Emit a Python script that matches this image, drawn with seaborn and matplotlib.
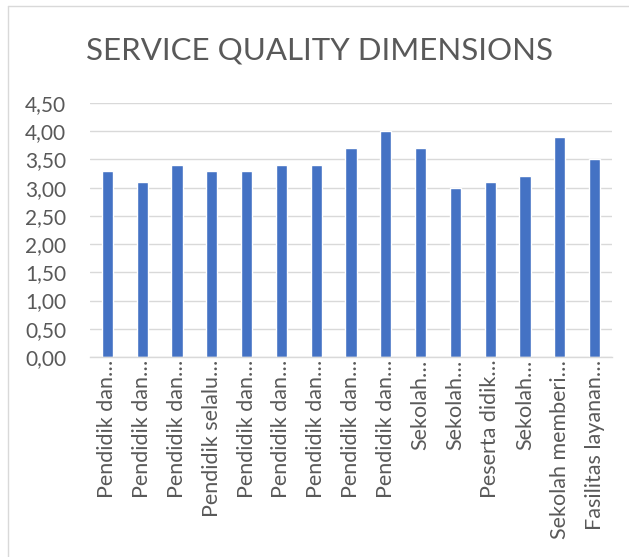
import matplotlib
matplotlib.use("Agg")
import matplotlib.pyplot as plt
from matplotlib.lines import Line2D
import seaborn as sns
import pandas as pd

# Chart data
labels = [
    "Pendidik dan…", "Pendidik dan…", "Pendidik dan…", "Pendidik selalu…",
    "Pendidik dan…", "Pendidik dan…", "Pendidik dan…", "Pendidik dan…",
    "Pendidik dan…", "Sekolah…", "Sekolah…", "Peserta didik…",
    "Sekolah…", "Sekolah memberi…", "Fasilitas layanan…",
]
scores = [3.3, 3.1, 3.4, 3.3, 3.3, 3.4, 3.4, 3.7, 4.0, 3.7, 3.0, 3.1, 3.2, 3.9, 3.5]
yticks = [0, 0.5, 1.0, 1.5, 2.0, 2.5, 3.0, 3.5, 4.0, 4.5]

df = pd.DataFrame({"item": range(len(labels)), "score": scores})

sns.set_style("white")
plt.rcParams["font.family"] = ["Lato", "DejaVu Sans"]
grey = "#595959"

fig = plt.figure(figsize=(6.29, 5.57), dpi=100)
ax = fig.add_axes([90 / 629, 200 / 557, 522 / 629, 254 / 557])

sns.barplot(data=df, x="item", y="score", color="#4472C4", saturation=1,
            width=0.32, ax=ax)

ax.set_ylim(0, 4.5)
ax.set_yticks(yticks)
ax.set_yticklabels([f"{v:.2f}".replace(".", ",") for v in yticks],
                   fontsize=15, color=grey)
ax.set_xticks(range(len(labels)))
ax.set_xticklabels(labels, rotation=90, fontsize=15.5, color=grey,
                   ha="center", va="top")
ax.tick_params(axis="both", length=0)
ax.tick_params(axis="y", pad=17)
ax.tick_params(axis="x", pad=2)
ax.set_xlabel("")
ax.set_ylabel("")
ax.grid(axis="y", color="#d9d9d9", linewidth=1)
ax.set_axisbelow(True)
for side in ["top", "right", "left"]:
    ax.spines[side].set_visible(False)
ax.spines["bottom"].set_color("#d9d9d9")
ax.spines["bottom"].set_linewidth(1)

fig.text(319 / 629, 1 - 50 / 557, "SERVICE QUALITY DIMENSIONS",
         ha="center", va="center", fontsize=22.5, color=grey)

# Chart frame (left and top edges)
fig.add_artist(Line2D([7.5 / 629, 7.5 / 629], [0, 1 - 5.5 / 557],
                      transform=fig.transFigure, color="#d9d9d9", linewidth=1))
fig.add_artist(Line2D([7.5 / 629, 1], [1 - 5.5 / 557, 1 - 5.5 / 557],
                      transform=fig.transFigure, color="#d9d9d9", linewidth=1))

fig.savefig("out.png", dpi=100)
